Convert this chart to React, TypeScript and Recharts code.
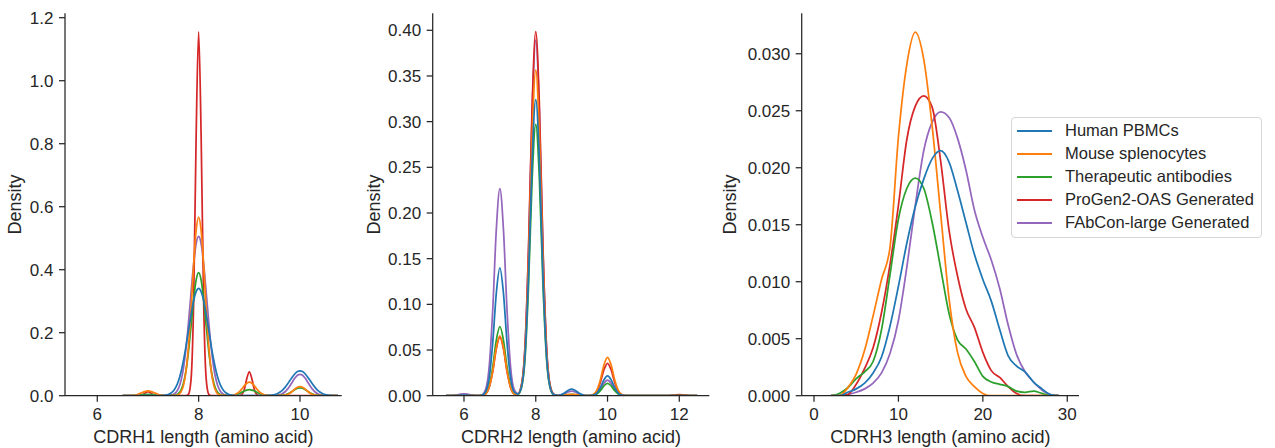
import React from "react";
import { LineChart, Line, XAxis, YAxis, Legend } from "recharts";

// series (hue order as in the legend)
const seriesNames = [
  "Human PBMCs",
  "Mouse splenocytes",
  "Therapeutic antibodies",
  "ProGen2-OAS Generated",
  "FAbCon-large Generated",
];
const seriesKeys = ["human", "mouse", "thera", "progen", "fabcon"];
const seriesColors = ["#1f77b4", "#ff7f0e", "#2ca02c", "#d62728", "#9467bd"];

// ---- CDRH1: length grid and densities ----
const cdrh1X = [
  6.5, 6.55, 6.6, 6.65, 6.7, 6.75, 6.8, 6.85, 6.9, 6.95,
  7, 7.05, 7.1, 7.15, 7.2, 7.25, 7.3, 7.35, 7.4, 7.45, 7.5, 7.55, 7.6, 7.65, 7.7, 7.75, 7.8, 7.85, 7.9, 7.95,
  8, 8.05, 8.1, 8.15, 8.2, 8.25, 8.3, 8.35, 8.4, 8.45, 8.5, 8.55, 8.6, 8.65, 8.7, 8.75, 8.8, 8.85, 8.9, 8.95,
  9, 9.05, 9.1, 9.15, 9.2, 9.25, 9.3, 9.35, 9.4, 9.45, 9.5, 9.55, 9.6, 9.65, 9.7, 9.75, 9.8, 9.85, 9.9, 9.95,
  10, 10.05, 10.1, 10.15, 10.2, 10.25, 10.3, 10.35, 10.4, 10.45, 10.5, 10.55, 10.6, 10.65, 10.7, 10.75,
];
const cdrh1Human = [
  0, 0, 0, 0, 0, 0, 0, 0, 0, 0,
  0, 0, 0, 0, 0, 0.0003, 0.0008, 0.0017, 0.0038, 0.0078, 0.015, 0.0271, 0.0461, 0.0737, 0.111, 0.156, 0.207, 0.257, 0.301, 0.33,
  0.341, 0.33, 0.301, 0.257, 0.207, 0.156, 0.111, 0.0737, 0.0461, 0.0271, 0.015, 0.0078, 0.0038, 0.0017, 0.0008, 0.0003, 0.0001, 0, 0, 0,
  0, 0, 0, 0, 0, 0.0001, 0.0002, 0.0004, 0.0009, 0.0018, 0.0035, 0.0063, 0.0107, 0.0171, 0.0257, 0.0362, 0.0479, 0.0596, 0.0697, 0.0766,
  0.079, 0.0766, 0.0697, 0.0596, 0.0479, 0.0362, 0.0257, 0.0171, 0.0107, 0.0063, 0.0035, 0.0018, 0.0009, 0.0004, 0.0002, 0.0001,
];
const cdrh1Mouse = [
  0, 0, 0.0001, 0.0003, 0.0008, 0.002, 0.0042, 0.0073, 0.0109, 0.0138,
  0.015, 0.0138, 0.0109, 0.0073, 0.0042, 0.002, 0.0008, 0.0003, 0.0001, 0, 0.0002, 0.0009, 0.0034, 0.0112, 0.032, 0.077, 0.158, 0.276, 0.412, 0.523,
  0.567, 0.523, 0.412, 0.276, 0.158, 0.077, 0.032, 0.0112, 0.0034, 0.0009, 0.0002, 0, 0.0003, 0.0009, 0.0024, 0.0058, 0.012, 0.0209, 0.0312, 0.0397,
  0.043, 0.0397, 0.0312, 0.0209, 0.012, 0.0058, 0.0024, 0.0009, 0.0003, 0, 0, 0, 0.0002, 0.0006, 0.0016, 0.0039, 0.0081, 0.0141, 0.0211, 0.0268,
  0.029, 0.0268, 0.0211, 0.0141, 0.0081, 0.0039, 0.0016, 0.0006, 0.0002, 0, 0, 0, 0, 0, 0, 0,
];
const cdrh1Thera = [
  0, 0, 0.0001, 0.0002, 0.0004, 0.0008, 0.0014, 0.0023, 0.0031, 0.0038,
  0.004, 0.0038, 0.0031, 0.0023, 0.0014, 0.0008, 0.0004, 0.0002, 0.0001, 0.0002, 0.0007, 0.0022, 0.0066, 0.0172, 0.0395, 0.079, 0.141, 0.22, 0.303, 0.367,
  0.391, 0.367, 0.303, 0.22, 0.141, 0.079, 0.0395, 0.0172, 0.0066, 0.0022, 0.0007, 0.0002, 0.0003, 0.0008, 0.0019, 0.0039, 0.0068, 0.0107, 0.0147, 0.0178,
  0.019, 0.0178, 0.0147, 0.0107, 0.0068, 0.0039, 0.0019, 0.0008, 0.0003, 0.0001, 0, 0.0001, 0.0004, 0.0011, 0.0025, 0.0051, 0.009, 0.0141, 0.0194, 0.0235,
  0.025, 0.0235, 0.0194, 0.0141, 0.009, 0.0051, 0.0025, 0.0011, 0.0004, 0.0001, 0, 0, 0, 0, 0, 0,
];
const cdrh1ProGen = [
  0, 0, 0, 0, 0, 0, 0, 0.0006, 0.0032, 0.0092,
  0.013, 0.0092, 0.0032, 0.0006, 0, 0, 0, 0, 0, 0, 0, 0, 0, 0, 0, 0.0002, 0.0045, 0.051, 0.288, 0.817,
  1.155, 0.817, 0.288, 0.051, 0.0045, 0.0002, 0, 0, 0, 0, 0, 0, 0, 0, 0, 0, 0.0003, 0.0033, 0.019, 0.054,
  0.076, 0.054, 0.019, 0.0033, 0.0003, 0, 0, 0, 0, 0, 0, 0, 0, 0, 0, 0, 0, 0, 0, 0,
  0, 0, 0, 0, 0, 0, 0, 0, 0, 0, 0, 0, 0, 0, 0, 0,
];
const cdrh1FAbCon = [
  0, 0, 0, 0, 0, 0, 0, 0, 0, 0,
  0, 0, 0, 0, 0, 0, 0, 0.0002, 0.0005, 0.0014, 0.0038, 0.0097, 0.0222, 0.0462, 0.087, 0.149, 0.232, 0.326, 0.416, 0.482,
  0.506, 0.482, 0.416, 0.326, 0.232, 0.149, 0.087, 0.0462, 0.0222, 0.0097, 0.0038, 0.0014, 0.0005, 0.0002, 0, 0, 0, 0, 0, 0,
  0, 0, 0, 0, 0, 0, 0, 0, 0, 0.0002, 0.0005, 0.0013, 0.003, 0.0062, 0.0117, 0.0201, 0.0311, 0.0438, 0.056, 0.0647,
  0.068, 0.0647, 0.056, 0.0438, 0.0311, 0.0201, 0.0117, 0.0062, 0.003, 0.0013, 0.0005, 0.0002, 0, 0, 0, 0,
];
const cdrh1XTicks = [6, 8, 10];
const cdrh1YTicks = [0, 0.2, 0.4, 0.6, 0.8, 1.0, 1.2];

// ---- CDRH2 ----
const cdrh2X = [
  5.5, 5.6, 5.7, 5.8, 5.9,
  6, 6.1, 6.2, 6.3, 6.4, 6.5, 6.6, 6.7, 6.8, 6.9,
  7, 7.1, 7.2, 7.3, 7.4, 7.5, 7.6, 7.7, 7.8, 7.9,
  8, 8.1, 8.2, 8.3, 8.4, 8.5, 8.6, 8.7, 8.8, 8.9,
  9, 9.1, 9.2, 9.3, 9.4, 9.5, 9.6, 9.7, 9.8, 9.9,
  10, 10.1, 10.2, 10.3, 10.4, 10.5, 10.6, 10.7, 10.8, 10.9,
  11, 11.1, 11.2, 11.3, 11.4, 11.5, 11.6, 11.7, 11.8, 11.9,
  12, 12.1, 12.2, 12.3, 12.4, 12.5,
];
const cdrh2Human = [
  0, 0, 0, 0.0001, 0.0004,
  0.0005, 0.0004, 0.0002, 0.0001, 0, 0.0005, 0.004, 0.0189, 0.0575, 0.1121,
  0.14, 0.1121, 0.0575, 0.0189, 0.0041, 0.0018, 0.0093, 0.0438, 0.1332, 0.2595,
  0.324, 0.2595, 0.1332, 0.0438, 0.0093, 0.0013, 0.0003, 0.001, 0.003, 0.0058,
  0.0073, 0.0058, 0.003, 0.001, 0.0002, 0.0001, 0.0006, 0.0029, 0.0089, 0.0173,
  0.0216, 0.0173, 0.0089, 0.0029, 0.0006, 0.0001, 0, 0, 0, 0,
  0, 0, 0, 0, 0, 0, 0, 0, 0, 0,
  0, 0, 0, 0, 0, 0,
];
const cdrh2Mouse = [
  0, 0, 0, 0, 0,
  0, 0, 0, 0, 0, 0.0003, 0.0019, 0.0089, 0.0269, 0.0525,
  0.0655, 0.0525, 0.0269, 0.0089, 0.002, 0.0017, 0.0102, 0.0482, 0.1465, 0.2856,
  0.3565, 0.2856, 0.1465, 0.0482, 0.0102, 0.0014, 0.0001, 0.0002, 0.0006, 0.0012,
  0.0015, 0.0012, 0.0006, 0.0002, 0, 0.0002, 0.0012, 0.0057, 0.0173, 0.0336,
  0.042, 0.0336, 0.0173, 0.0057, 0.0012, 0.0002, 0, 0, 0, 0,
  0, 0, 0, 0, 0, 0, 0, 0, 0, 0,
  0, 0, 0, 0, 0, 0,
];
const cdrh2Thera = [
  0, 0, 0, 0, 0,
  0, 0, 0, 0, 0, 0.0003, 0.0022, 0.0102, 0.031, 0.0605,
  0.0755, 0.0605, 0.031, 0.0102, 0.0023, 0.0015, 0.0085, 0.0402, 0.1221, 0.2379,
  0.297, 0.2379, 0.1221, 0.0402, 0.0085, 0.0012, 0.0001, 0.0002, 0.0006, 0.0012,
  0.0015, 0.0012, 0.0006, 0.0002, 0, 0.0001, 0.0004, 0.0018, 0.0055, 0.0108,
  0.0135, 0.0108, 0.0055, 0.0018, 0.0004, 0.0001, 0, 0, 0, 0,
  0, 0, 0, 0, 0, 0, 0, 0, 0, 0,
  0, 0, 0, 0, 0, 0,
];
const cdrh2ProGen = [
  0, 0, 0, 0, 0,
  0, 0, 0, 0, 0, 0.0002, 0.0018, 0.0087, 0.0263, 0.0513,
  0.064, 0.0513, 0.0263, 0.0087, 0.0019, 0.0018, 0.0114, 0.0539, 0.1638, 0.3192,
  0.3985, 0.3192, 0.1638, 0.0539, 0.0114, 0.0016, 0.0001, 0.0001, 0.0004, 0.0008,
  0.001, 0.0008, 0.0004, 0.0001, 0, 0.0001, 0.001, 0.0048, 0.0146, 0.0284,
  0.0355, 0.0284, 0.0146, 0.0048, 0.001, 0.0001, 0, 0, 0, 0,
  0, 0, 0, 0, 0, 0, 0, 0.0002, 0.0005, 0.001,
  0.0012, 0.001, 0.0005, 0.0002, 0, 0,
];
const cdrh2FAbCon = [
  0, 0.0001, 0.0003, 0.0008, 0.0016,
  0.002, 0.0016, 0.0008, 0.0003, 0.0002, 0.0009, 0.0065, 0.0307, 0.0931, 0.1815,
  0.2266, 0.1815, 0.0931, 0.0307, 0.0066, 0.0024, 0.0112, 0.0526, 0.1599, 0.3116,
  0.389, 0.3116, 0.1599, 0.0526, 0.0111, 0.0015, 0.0002, 0.0007, 0.0021, 0.004,
  0.005, 0.004, 0.0021, 0.0007, 0.0001, 0.0001, 0.0005, 0.0023, 0.007, 0.0136,
  0.017, 0.0136, 0.007, 0.0023, 0.0005, 0.0001, 0, 0, 0, 0,
  0, 0, 0, 0, 0, 0, 0, 0, 0, 0,
  0, 0, 0, 0, 0, 0,
];
const cdrh2XTicks = [6, 8, 10, 12];
const cdrh2YTicks = [0, 0.05, 0.1, 0.15, 0.2, 0.25, 0.3, 0.35, 0.4];

// ---- CDRH3 ----
const cdrh3X = [2, 3, 4, 5, 6, 7, 8, 9, 10, 11, 12, 13, 14, 15, 16, 17, 18, 19, 20, 21, 22, 23, 24, 25, 26, 27, 28, 29];
const cdrh3Human = [0, 0, 0.0003, 0.0006, 0.0011, 0.002, 0.0034, 0.0061, 0.0096, 0.0134, 0.0166, 0.019, 0.0208, 0.0215, 0.0205, 0.018, 0.0152, 0.0124, 0.0102, 0.0083, 0.0058, 0.0035, 0.0026, 0.0021, 0.0012, 0.0006, 0.0001, 0];
const cdrh3Mouse = [0, 0, 0.0007, 0.0019, 0.004, 0.007, 0.0102, 0.013, 0.0227, 0.0291, 0.0319, 0.0295, 0.0236, 0.016, 0.0085, 0.0038, 0.0017, 0.0008, 0.0002, 0, 0, 0, 0, 0, 0, 0, 0, 0];
const cdrh3Thera = [0, 0.0002, 0.0007, 0.0015, 0.0021, 0.003, 0.0058, 0.0106, 0.0155, 0.0182, 0.0191, 0.0182, 0.0152, 0.0112, 0.0072, 0.0049, 0.0041, 0.003, 0.0017, 0.0012, 0.001, 0.0008, 0.0004, 0.0003, 0.0004, 0.0002, 0, 0];
const cdrh3ProGen = [0, 0, 0.0001, 0.001, 0.0024, 0.0042, 0.0073, 0.0115, 0.0167, 0.0225, 0.0254, 0.0263, 0.0253, 0.0206, 0.0145, 0.0105, 0.0076, 0.006, 0.0038, 0.0022, 0.0016, 0.0008, 0.0002, 0, 0, 0, 0, 0];
const cdrh3FAbCon = [0, 0, 0.0001, 0.0003, 0.0006, 0.0011, 0.002, 0.0037, 0.0066, 0.0113, 0.0167, 0.0215, 0.024, 0.0249, 0.0244, 0.0226, 0.0198, 0.0163, 0.0139, 0.0119, 0.0094, 0.0062, 0.0036, 0.0021, 0.0012, 0.0005, 0.0001, 0];
const cdrh3XTicks = [0, 10, 20, 30];
const cdrh3YTicks = [0, 0.005, 0.01, 0.015, 0.02, 0.025, 0.03];

const FONT = "'Liberation Sans', Arial, Helvetica, sans-serif";
const INK = "#262626";
const H = 448;
const PLOT_TOP = 13.3;
const PLOT_BOTTOM = 395.7;

const buildRows = (xs: number[], cols: number[][]) =>
  xs.map((x, i) => {
    const row: Record<string, number> = { x };
    seriesKeys.forEach((k, j) => (row[k] = cols[j][i]));
    return row;
  });

const LegendBox = () => (
  <div
    style={{
      position: "relative",
      width: 249,
      height: 119,
      border: "1px solid #d6d6d6",
      borderRadius: 4,
      background: "#fff",
      fontFamily: FONT,
      fontSize: 16.5,
      color: INK,
    }}
  >
    {seriesNames.map((name, i) => (
      <div
        key={name}
        style={{
          position: "absolute",
          left: 5.3,
          top: 0.9 + i * 23,
          height: 23,
          display: "flex",
          alignItems: "center",
          whiteSpace: "nowrap",
        }}
      >
        <div style={{ width: 34.4, height: 2, background: seriesColors[i] }} />
        <span style={{ marginLeft: 13.3, lineHeight: "23px" }}>{name}</span>
      </div>
    ))}
  </div>
);

interface PanelProps {
  rows: Record<string, number>[];
  left: number;
  width: number;
  yAxisWidth: number;
  plotRight: number;
  xDomain: [number, number];
  yDomain: [number, number];
  xTicks: number[];
  yTicks: number[];
  digits: number;
  xTitle: string;
  yTitleX: number;
  legend?: boolean;
}

const Panel = (p: PanelProps) => {
  const plotW = p.plotRight - p.left - p.yAxisWidth;
  const cx = p.yAxisWidth + plotW / 2;
  const cy = (PLOT_TOP + PLOT_BOTTOM) / 2;
  const ytx = p.yTitleX - p.left;
  const order = [4, 3, 2, 1, 0]; // first hue drawn last, on top
  return (
    <div style={{ position: "absolute", left: p.left, top: 0 }}>
      <LineChart
        width={p.width}
        height={H}
        data={p.rows}
        margin={{ top: PLOT_TOP, right: p.width - (p.plotRight - p.left), bottom: 0, left: 0 }}
      >
        {order.map((j) => (
          <Line
            key={seriesKeys[j]}
            type="monotone"
            dataKey={seriesKeys[j]}
            name={seriesNames[j]}
            stroke={seriesColors[j]}
            strokeWidth={1.75}
            dot={false}
            activeDot={false}
            isAnimationActive={false}
          />
        ))}
        <XAxis
          dataKey="x"
          type="number"
          domain={p.xDomain}
          allowDataOverflow
          ticks={p.xTicks}
          interval={0}
          height={H - PLOT_BOTTOM}
          tickSize={6}
          tickMargin={6.3}
          axisLine={{ stroke: INK, strokeWidth: 1.25 }}
          tickLine={{ stroke: INK, strokeWidth: 1.25 }}
          tick={{ fill: INK, fontSize: 17, fontFamily: FONT }}
          label={() => (
            <text x={cx} y={442.5} textAnchor="middle" fill={INK} fontSize={18} fontFamily={FONT}>
              {p.xTitle}
            </text>
          )}
        />
        <YAxis
          type="number"
          domain={p.yDomain}
          allowDataOverflow
          ticks={p.yTicks}
          interval={0}
          width={p.yAxisWidth}
          tickSize={6}
          tickMargin={5.5}
          tickFormatter={(v: number) => v.toFixed(p.digits)}
          axisLine={{ stroke: INK, strokeWidth: 1.25 }}
          tickLine={{ stroke: INK, strokeWidth: 1.25 }}
          tick={{ fill: INK, fontSize: 17, fontFamily: FONT }}
          label={() => (
            <text
              x={ytx}
              y={cy}
              transform={`rotate(-90, ${ytx}, ${cy})`}
              textAnchor="middle"
              fill={INK}
              fontSize={18}
              fontFamily={FONT}
            >
              Density
            </text>
          )}
        />
        {p.legend && (
          <Legend
            layout="vertical"
            align="center"
            verticalAlign="middle"
            wrapperStyle={{ left: 311, top: 117.3, width: 251 }}
            content={() => <LegendBox />}
          />
        )}
      </LineChart>
    </div>
  );
};

export default function App() {
  const rows1 = buildRows(cdrh1X, [cdrh1Human, cdrh1Mouse, cdrh1Thera, cdrh1ProGen, cdrh1FAbCon]);
  const rows2 = buildRows(cdrh2X, [cdrh2Human, cdrh2Mouse, cdrh2Thera, cdrh2ProGen, cdrh2FAbCon]);
  const rows3 = buildRows(cdrh3X, [cdrh3Human, cdrh3Mouse, cdrh3Thera, cdrh3ProGen, cdrh3FAbCon]);
  return (
    <div
      style={{
        position: "absolute",
        left: 0,
        top: 0,
        width: 1275,
        height: H,
        background: "#fff",
        fontFamily: FONT,
        overflow: "hidden",
      }}
    >
      <Panel
        rows={rows1}
        left={0}
        width={352}
        yAxisWidth={65}
        plotRight={341.7}
        xDomain={[5.363, 10.823]}
        yDomain={[0, 1.214]}
        xTicks={cdrh1XTicks}
        yTicks={cdrh1YTicks}
        digits={1}
        xTitle="CDRH1 length (amino acid)"
        yTitleX={20.5}
      />
      <Panel
        rows={rows2}
        left={350}
        width={365}
        yAxisWidth={82.7}
        plotRight={709.3}
        xDomain={[5.128, 12.836]}
        yDomain={[0, 0.4186]}
        xTicks={cdrh2XTicks}
        yTicks={cdrh2YTicks}
        digits={2}
        xTitle="CDRH2 length (amino acid)"
        yTitleX={379.6}
      />
      <Panel
        rows={rows3}
        left={700}
        width={575}
        yAxisWidth={101.7}
        plotRight={1079}
        xDomain={[-1.457, 31.39]}
        yDomain={[0, 0.03355]}
        xTicks={cdrh3XTicks}
        yTicks={cdrh3YTicks}
        digits={3}
        xTitle="CDRH3 length (amino acid)"
        yTitleX={736.2}
        legend
      />
    </div>
  );
}
